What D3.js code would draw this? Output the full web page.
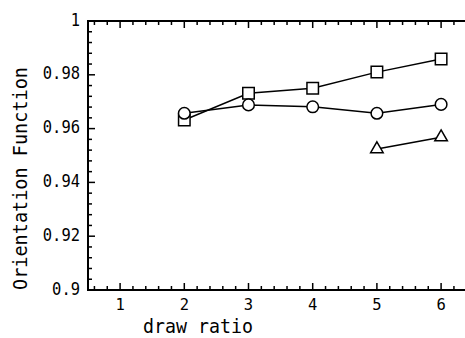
<!DOCTYPE html>
<html>
<head>
<meta charset="utf-8">
<script src="https://cdn.jsdelivr.net/npm/d3@7"></script>
<style>
  html, body { margin: 0; padding: 0; background: #fff; }
  svg { display: block; }
</style>
</head>
<body>
<svg id="chart" width="465" height="338"></svg>
<script>
// Draw ratio values and the orientation function measured at each
const drawRatios = [2, 3, 4, 5, 6];
const squareSeries = [0.9632, 0.9731, 0.9750, 0.9810, 0.9859];
const circleSeries = [0.9657, 0.9688, 0.9681, 0.9657, 0.9690];
const triangleRatios = [5, 6];
const triangleSeries = [0.9524, 0.9568];

const xTickValues = [1, 2, 3, 4, 5, 6];
const yTickValues = [0.9, 0.92, 0.94, 0.96, 0.98, 1];
const yTickLabels = ["0.9", "0.92", "0.94", "0.96", "0.98", "1"];

const svg = d3.select("#chart");
const plotLeft = 88, plotTop = 21, plotBottom = 290;

const x = d3.scaleLinear().domain([0.5, 6.5]).range([plotLeft, plotLeft + 6 * 64.2]);
const y = d3.scaleLinear().domain([0.9, 1]).range([plotBottom, plotTop]);

const minorX = d3.range(0.6, 6.5, 0.2).map(v => +v.toFixed(1));
const minorY = d3.range(0.904, 1.0, 0.004).map(v => +v.toFixed(3));
const plotRight = x(6.5);

const frame = svg.append("g").attr("stroke", "#000").attr("fill", "none");

// Frame
frame.append("path")
  .attr("stroke-width", 2)
  .attr("d", `M${plotRight},${plotTop}H${plotLeft}V${plotBottom}H${plotRight}V${plotTop}`);

// Inward ticks on bottom and top
const tickG = frame.append("g").attr("stroke-width", 1.5);
minorX.forEach(v => {
  const isMajor = Math.abs(v - Math.round(v)) < 1e-6;
  const len = isMajor ? 7 : 4;
  tickG.append("line").attr("x1", x(v)).attr("x2", x(v)).attr("y1", plotBottom).attr("y2", plotBottom - len);
  tickG.append("line").attr("x1", x(v)).attr("x2", x(v)).attr("y1", plotTop).attr("y2", plotTop + len);
});
// Inward ticks on the left
minorY.forEach(v => {
  const isMajor = yTickValues.some(t => Math.abs(t - v) < 1e-6);
  const len = isMajor ? 7 : 4;
  tickG.append("line").attr("x1", plotLeft).attr("x2", plotLeft + len).attr("y1", y(v)).attr("y2", y(v));
});

// Tick labels
const mono = "'DejaVu Sans Mono', monospace";
svg.append("g").selectAll("text").data(xTickValues).join("text")
  .attr("x", d => x(d)).attr("y", 310)
  .attr("text-anchor", "middle")
  .attr("font-family", mono).attr("font-size", 15.5)
  .text(d => d);

svg.append("g").selectAll("text").data(yTickValues).join("text")
  .attr("x", 80).attr("y", d => y(d) + 4.5)
  .attr("text-anchor", "end")
  .attr("font-family", mono).attr("font-size", 18)
  .attr("textLength", (d, i) => yTickLabels[i].length * 9.3)
  .attr("lengthAdjust", "spacingAndGlyphs")
  .text((d, i) => yTickLabels[i]);

// Axis titles
svg.append("text")
  .attr("x", 198).attr("y", 332.5)
  .attr("text-anchor", "middle")
  .attr("font-family", mono).attr("font-size", 19.5)
  .attr("textLength", 110).attr("lengthAdjust", "spacingAndGlyphs")
  .text("draw ratio");

svg.append("text")
  .attr("transform", "translate(27,178.5) rotate(-90)")
  .attr("text-anchor", "middle")
  .attr("font-family", mono).attr("font-size", 20)
  .attr("textLength", 223).attr("lengthAdjust", "spacingAndGlyphs")
  .text("Orientation Function");

// Series: lines first, then open markers on top
const series = [
  { xs: drawRatios, ys: squareSeries, symbol: d3.symbolSquare, size: 132 },
  { xs: drawRatios, ys: circleSeries, symbol: d3.symbolCircle, size: 106 },
  { xs: triangleRatios, ys: triangleSeries, symbol: d3.symbolTriangle, size: 68 }
];

const line = d3.line().x(d => x(d[0])).y(d => y(d[1]));

series.forEach(s => {
  const pts = s.xs.map((v, i) => [v, s.ys[i]]);
  svg.append("path")
    .attr("d", line(pts))
    .attr("fill", "none").attr("stroke", "#000").attr("stroke-width", 1.5);
});

series.forEach(s => {
  const pts = s.xs.map((v, i) => [v, s.ys[i]]);
  svg.append("g").selectAll("path").data(pts).join("path")
    .attr("transform", d => `translate(${x(d[0])},${y(d[1])})`)
    .attr("d", d3.symbol().type(s.symbol).size(s.size)())
    .attr("fill", "#fff").attr("stroke", "#000").attr("stroke-width", 1.5);
});
</script>
</body>
</html>
